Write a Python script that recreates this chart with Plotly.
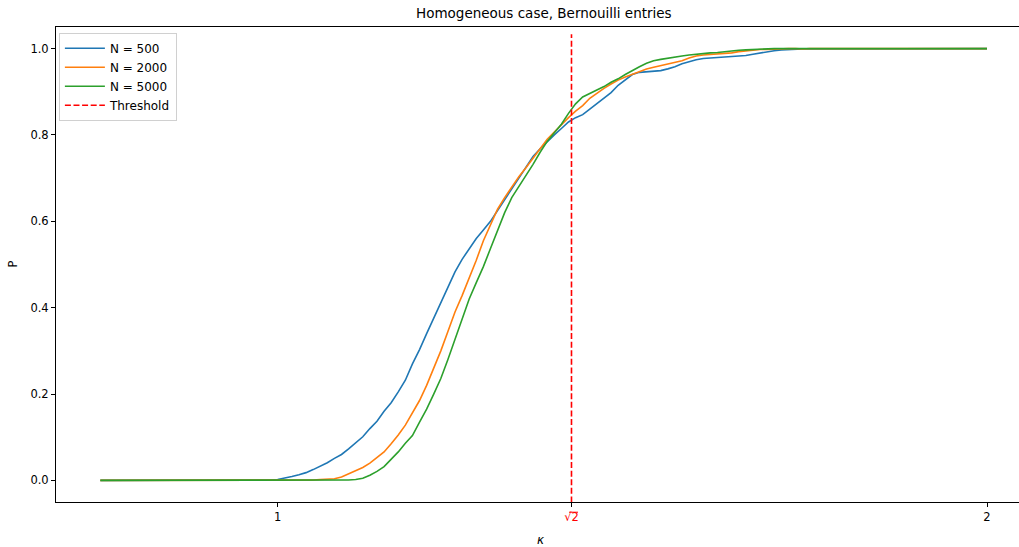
import numpy as np
import plotly.graph_objects as go

# kappa grid 0.75 .. 2.00 step 0.01
kappa = np.round(np.arange(75, 201) / 100.0, 2)

p_500 = [0.0] * 24 + [
    0.001, 0.002, 0.005, 0.009, 0.013, 0.018, 0.025, 0.033, 0.041, 0.051,
    0.060, 0.073, 0.087, 0.101, 0.120, 0.137, 0.160, 0.180, 0.205, 0.232,
    0.270, 0.303, 0.340, 0.375, 0.413, 0.448, 0.483, 0.512, 0.535, 0.560,
    0.580, 0.600, 0.625, 0.650, 0.675, 0.700, 0.725, 0.750, 0.768, 0.785,
    0.800, 0.815, 0.830, 0.840, 0.847, 0.860, 0.872, 0.885, 0.898, 0.915,
    0.928, 0.940, 0.945, 0.946, 0.947, 0.949, 0.953, 0.958, 0.965, 0.970,
    0.974, 0.977, 0.978, 0.979, 0.980, 0.981, 0.982, 0.984, 0.987, 0.990,
    0.993, 0.995, 0.997, 0.998, 0.998, 0.999,
] + [
    0.999, 0.999, 1.0, 1.0, 0.999, 1.0, 1.0, 1.0, 1.0, 1.0,
    1.0, 1.0, 0.999, 0.999, 1.0, 1.0, 1.0, 1.0, 1.0, 1.0,
    1.0, 1.0, 1.0, 1.0, 1.0, 1.0,
]

p_2000 = [0.0] * 30 + [
    0.001, 0.002, 0.003, 0.004, 0.008, 0.015, 0.022, 0.030, 0.040, 0.052,
    0.066, 0.085, 0.105, 0.128, 0.155, 0.185, 0.220, 0.258, 0.300, 0.345,
    0.390, 0.428, 0.468, 0.510, 0.555, 0.592, 0.628, 0.655, 0.680, 0.703,
    0.724, 0.747, 0.768, 0.790, 0.807, 0.822, 0.840, 0.855, 0.868, 0.885,
    0.897, 0.908, 0.918, 0.927, 0.934, 0.940, 0.946, 0.953, 0.957, 0.961,
    0.965, 0.968, 0.972, 0.978, 0.983, 0.985, 0.986, 0.987, 0.988, 0.990,
    0.993, 0.995, 0.997, 0.998, 0.998, 0.999,
] + [
    1.0, 1.0, 1.0, 0.999, 1.0, 1.0, 1.0, 1.0, 1.0, 1.0,
    1.0, 1.0, 1.0, 1.0, 1.0, 1.0, 1.0, 1.0, 1.0, 1.0,
    1.0, 1.0, 1.0, 1.0, 1.0, 1.0, 1.0, 1.0, 1.0, 1.0,
]

p_5000 = [0.0] * 35 + [
    0.001, 0.002, 0.005, 0.012, 0.021, 0.032, 0.048, 0.066, 0.086, 0.104,
    0.135, 0.165, 0.200, 0.236, 0.280, 0.325, 0.375, 0.420, 0.458, 0.495,
    0.537, 0.578, 0.620, 0.655, 0.680, 0.705, 0.732, 0.760, 0.785, 0.805,
    0.825, 0.850, 0.872, 0.888, 0.896, 0.903, 0.912, 0.922, 0.930, 0.940,
    0.950, 0.958, 0.966, 0.972, 0.975, 0.978, 0.981, 0.983, 0.985, 0.987,
    0.989, 0.990, 0.991, 0.993, 0.995, 0.996, 0.997, 0.998, 0.998, 0.999,
] + [1.0] * 31

series_names = ["N = 500", "N = 2000", "N = 5000"]
series_values = [p_500, p_2000, p_5000]
series_colors = ["#1f77b4", "#ff7f0e", "#2ca02c"]

threshold = float(np.sqrt(2))
threshold_span = [-0.051, 1.033]

x_tick_vals = [1, threshold, 2]
x_tick_text = ["1", "<span style='color:red'>\u221a2</span>", "2"]
y_tick_vals = [0.0, 0.2, 0.4, 0.6, 0.8, 1.0]

for v in series_values:
    assert len(v) == len(kappa), len(v)

fig = go.Figure()
for name, vals, col in zip(series_names, series_values, series_colors):
    fig.add_trace(go.Scatter(x=kappa, y=vals, mode="lines", name=name,
                             line=dict(color=col, width=1.6)))
fig.add_trace(go.Scatter(x=[threshold, threshold], y=threshold_span, mode="lines",
                         name="Threshold",
                         line=dict(color="red", width=1.6, dash="6px,2.6px")))

font = "DejaVu Sans, sans-serif"
fig.update_layout(
    width=1019, height=547,
    margin=dict(l=56, r=0, t=27, b=45),
    paper_bgcolor="white", plot_bgcolor="white",
    font=dict(family=font, size=11, color="black"),
    showlegend=True,
    legend=dict(x=0.003, y=0.988, xanchor="left", yanchor="top",
                bgcolor="rgba(255,255,255,0.8)", bordercolor="#d0d0d0", borderwidth=1,
                font=dict(size=12), tracegroupgap=0, itemwidth=40),
    xaxis=dict(range=[0.6875, 2.0451], showgrid=False, zeroline=False,
               showline=True, linecolor="black", linewidth=1, mirror=True,
               ticks="outside", ticklen=4, tickcolor="black",
               tickvals=x_tick_vals, ticktext=x_tick_text,
               tickfont=dict(size=11.5)),
    yaxis=dict(range=[-0.05, 1.05], showgrid=False, zeroline=False,
               showline=True, linecolor="black", linewidth=1, mirror=False,
               ticks="outside", ticklen=4, tickcolor="black",
               tickvals=y_tick_vals, tickformat=".1f",
               tickfont=dict(size=11.5)),
    annotations=[
        dict(text="Homogeneous case, Bernouilli entries", xref="paper", yref="paper",
             x=0.507, y=1.0, yshift=14, xanchor="center", yanchor="middle",
             showarrow=False, font=dict(size=13.5)),
        dict(text="<i>\u03ba</i>", xref="paper", yref="paper", x=0.504, y=0,
             yshift=-38, xanchor="center", yanchor="middle", showarrow=False,
             font=dict(size=12)),
        dict(text="P", xref="paper", yref="paper", x=0, xshift=-44, y=0.5,
             textangle=-90, xanchor="center", yanchor="middle", showarrow=False,
             font=dict(size=11.5)),
    ],
    shapes=[
        # overline (vinculum) of the square root on the sqrt(2) tick label
        dict(type="line", xref="paper", yref="paper",
             x0=0.5327, x1=0.5421, y0=-0.0215, y1=-0.0215,
             line=dict(color="red", width=1)),
    ],
)

fig.write_html("out.html",
               config={"displayModeBar": False},
               post_script="document.body.style.margin='0';"
                           "document.body.style.overflow='hidden';")
